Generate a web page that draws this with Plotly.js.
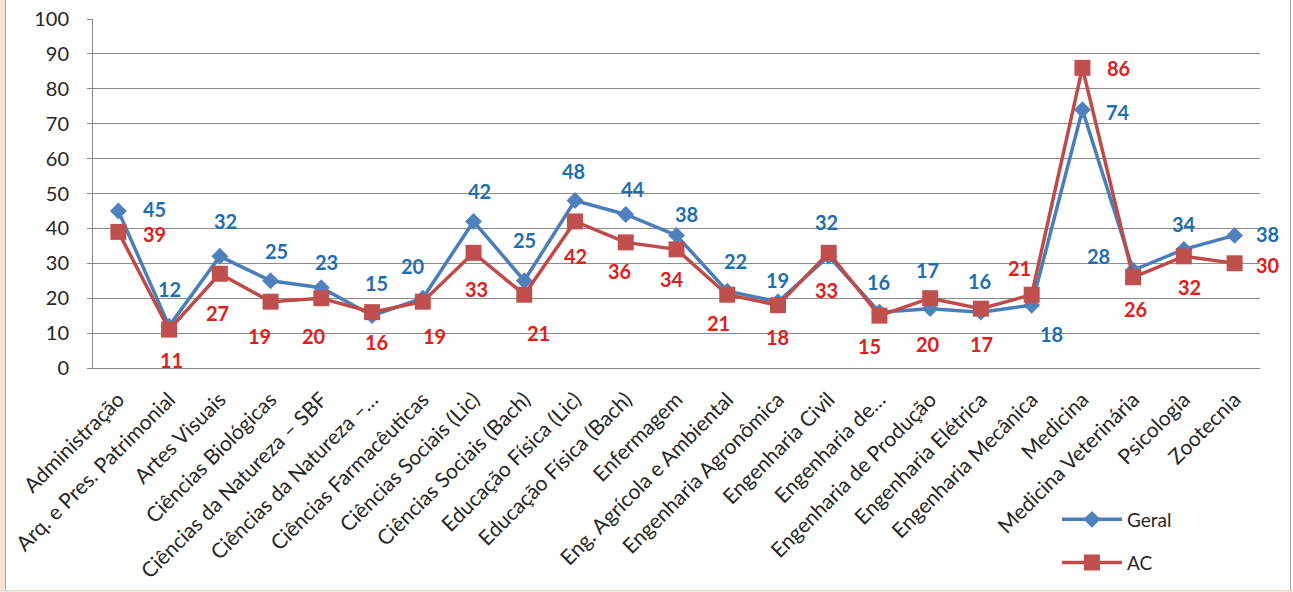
<!DOCTYPE html>
<html>
<head>
<meta charset="utf-8">
<script src="https://cdn.plot.ly/plotly-3.0.1.min.js"></script>
<style>
  html, body { margin:0; padding:0; background:#ffffff; }
  #wrap { position:relative; width:1293px; height:592px; overflow:hidden; background:#ffffff; }
  #strip { position:absolute; left:0; top:0; width:5px; height:592px; background:#FBE5D6; border-right:1px solid #A6A6A6; }
  #rline { position:absolute; left:1290px; top:0; width:1px; height:592px; background:#A6A6A6; }
  #bline { position:absolute; left:0; top:590px; width:1293px; height:2px; background:#FBE5D6; border-top:1px solid #D9D9D9; }
  #chart { position:absolute; left:0; top:0; width:1293px; height:592px; }
</style>
</head>
<body>
<div id="wrap">
  <div id="strip"></div>
  <div id="rline"></div>
  <div id="bline"></div>
  <div id="chart"></div>
</div>
<script>
// ---- data ----
const categories = [
  "Administração", "Arq. e Pres. Patrimonial", "Artes Visuais", "Ciências Biológicas",
  "Ciências da Natureza – SBF", "Ciências da Natureza –…", "Ciências Farmacêuticas",
  "Ciências Sociais (Lic)", "Ciências Sociais (Bach)", "Educação Física (Lic)",
  "Educação Física (Bach)", "Enfermagem", "Eng. Agrícola e Ambiental",
  "Engenharia Agronômica", "Engenharia Civil", "Engenharia de…", "Engenharia de Produção",
  "Engenharia Elétrica", "Engenharia Mecânica", "Medicina", "Medicina Veterinária",
  "Psicologia", "Zootecnia"
];
const geral = [45, 12, 32, 25, 23, 15, 20, 42, 25, 48, 44, 38, 22, 19, 32, 16, 17, 16, 18, 74, 28, 34, 38];
const ac    = [39, 11, 27, 19, 20, 16, 19, 33, 21, 42, 36, 34, 21, 18, 33, 15, 20, 17, 21, 86, 26, 32, 30];
const yTicks = [0, 10, 20, 30, 40, 50, 60, 70, 80, 90, 100];

// ---- label offsets (pixels, dx right, dy down) ----
const geralDx = [36, 0, 6, 6, 5, 4, -10, 6, 0, -2, 7, 10, 8, 0, -2, -1, -3, -1, 20, 36, -35, 0, 33];
const geralDy = [-2, -37, -35, -30, -26, -33, -32, -30, -41, -29, -25, -21, -30, -22, -34, -30, -39, -31, 29, 2, -14, -25, -1];
const acDx = [36, 2, -2, -11, -7, 4, 12, 3, 14, 0, -6, -5, -9, 0, -2, -10, -2, 1, -12, 36, 2, 6, 33];
const acDy = [2, 30, 39, 34, 38, 30, 34, 36, 38, 35, 29, 30, 28, 32, 37, 30, 46, 35, -27, 0, 32, 31, 2];

const FONT = "Lato, Calibri, 'Open Sans', sans-serif";
const BLUE_LINE = "#4A7EBB", BLUE_MK = "#4F81BD", BLUE_TXT = "#1F6EB0";
const RED_LINE = "#BE4B48", RED_MK = "#C0504D", RED_TXT = "#E0201B";

const traces = [
  {
    x: categories, y: geral, name: "Geral", type: "scatter", mode: "lines+markers",
    line: {color: BLUE_LINE, width: 3.5},
    marker: {symbol: "diamond", size: 13, color: BLUE_MK},
    legend: "legend", hoverinfo: "skip"
  },
  {
    x: categories, y: ac, name: "AC", type: "scatter", mode: "lines+markers",
    line: {color: RED_LINE, width: 3.5},
    marker: {symbol: "square", size: 16, color: RED_MK},
    legend: "legend2", hoverinfo: "skip"
  }
];

const annotations = [];
categories.forEach((c, i) => {
  annotations.push({x: c, y: geral[i], text: String(geral[i]), showarrow: false,
    xshift: geralDx[i], yshift: -geralDy[i],
    font: {family: FONT, size: 20, color: BLUE_TXT, weight: "bold"}});
  annotations.push({x: c, y: ac[i], text: String(ac[i]), showarrow: false,
    xshift: acDx[i], yshift: -acDy[i],
    font: {family: FONT, size: 20, color: RED_TXT, weight: "bold"}});
});

const legendCommon = {
  xref: "paper", yref: "paper", xanchor: "left", yanchor: "middle",
  font: {family: FONT, size: 19, color: "#262626"},
  bgcolor: "rgba(0,0,0,0)", itemwidth: 60, borderwidth: 0
};

const layout = {
  width: 1293, height: 592,
  margin: {l: 93, r: 33, t: 19, b: 223, pad: 0},
  paper_bgcolor: "rgba(0,0,0,0)",
  plot_bgcolor: "#ffffff",
  showlegend: true,
  font: {family: FONT, color: "#262626"},
  xaxis: {
    type: "category", categoryorder: "array", categoryarray: categories,
    range: [-0.5, categories.length - 0.5],
    tickangle: -45, tickfont: {family: FONT, size: 21, color: "#262626"},
    ticklabelstandoff: 10,
    showline: true, linecolor: "#868686", linewidth: 1,
    showgrid: false, ticks: "", zeroline: false, fixedrange: true
  },
  yaxis: {
    range: [0, 100], tickvals: yTicks, ticktext: yTicks.map(String),
    tickfont: {family: FONT, size: 20, color: "#262626"},
    showline: true, linecolor: "#868686", linewidth: 1,
    showgrid: true, gridcolor: "#8C8C8C", gridwidth: 1,
    ticks: "outside", ticklen: 5, tickcolor: "#868686",
    ticklabelstandoff: 14, zeroline: false, fixedrange: true
  },
  legend: Object.assign({}, legendCommon, {x: 0.826, y: -0.43}),
  legend2: Object.assign({}, legendCommon, {x: 0.826, y: -0.553}),
  annotations: annotations
};

Plotly.newPlot("chart", traces, layout, {displayModeBar: false, staticPlot: true});
</script>
</body>
</html>
